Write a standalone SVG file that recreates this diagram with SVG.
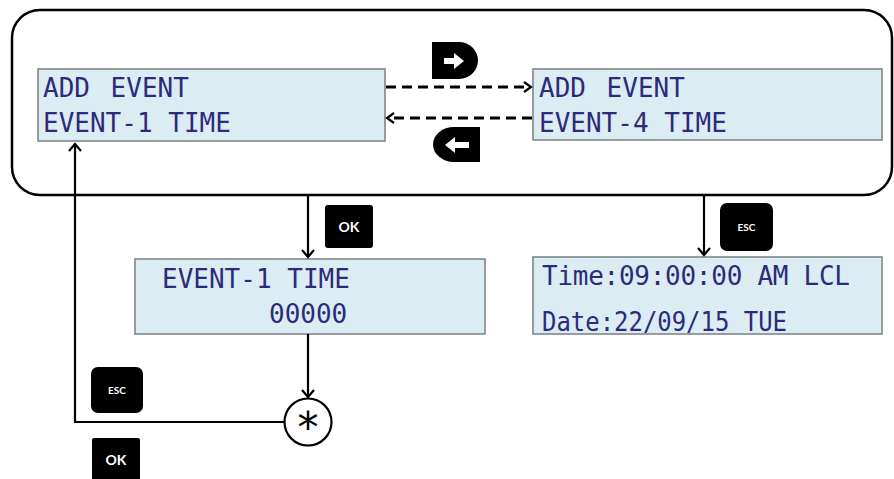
<svg xmlns="http://www.w3.org/2000/svg" width="894" height="479" viewBox="0 0 894 479">
<defs>
<style>
.lcd{fill:#dbedf3;stroke:#7a7f82;stroke-width:1.5}
.lt{font-family:"DejaVu Sans Mono","Liberation Mono",monospace;font-size:26px;fill:#2d2a7c}
.btn{fill:#000}
.bt{font-family:Lato,"Open Sans","Liberation Sans",sans-serif;font-weight:bold;fill:#fff;text-anchor:middle}
.ln{fill:none;stroke:#000;stroke-width:2.2}
.dash{fill:none;stroke:#000;stroke-width:2.8;stroke-dasharray:10 6}
.head{fill:none;stroke:#000;stroke-width:2.2;stroke-linejoin:miter}
</style>
</defs>
<rect x="12" y="10" width="880" height="185" rx="28" ry="28" fill="none" stroke="#000" stroke-width="2.5"/>

<g id="lcd-add-event-1">
<rect class="lcd" x="38" y="69" width="347" height="72"/>
<text class="lt" x="43" y="97" word-spacing="5">ADD EVENT</text>
<text class="lt" x="43" y="132">EVENT-1 TIME</text>
</g>

<g id="lcd-add-event-4">
<rect class="lcd" x="533" y="69" width="349" height="71"/>
<text class="lt" x="539" y="97" word-spacing="5">ADD EVENT</text>
<text class="lt" x="539" y="132">EVENT-4 TIME</text>
</g>

<g id="lcd-event-1-time">
<rect class="lcd" x="135" y="259" width="350" height="75"/>
<text class="lt" x="162" y="288">EVENT-1 TIME</text>
<text class="lt" x="269" y="323">00000</text>
</g>

<g id="lcd-time-date">
<rect class="lcd" x="533" y="257" width="349" height="77"/>
<text class="lt" x="542" y="285" textLength="308" lengthAdjust="spacing">Time:09:00:00 AM LCL</text>
<text class="lt" x="542" y="331" textLength="245" lengthAdjust="spacingAndGlyphs">Date:22/09/15 TUE</text>
</g>

<g id="btn-right">
<path class="btn" d="M432,42 H459 A19,18.5 0 0 1 459,79 H432 Z"/>
<polygon fill="#fff" points="444,58 454,58 454,53 464,61 454,69 454,64 444,64"/>
</g>

<g id="btn-left">
<path class="btn" d="M480,127 V162 H454 A21,17.5 0 0 1 454,127 Z"/>
<polygon fill="#fff" points="445,145 455,137 455,142 469,142 469,148 455,148 455,153"/>
</g>

<g id="btn-ok-mid">
<rect class="btn" x="325" y="205" width="48" height="43" rx="3"/>
<text class="bt" x="349" y="232" font-size="14">OK</text>
</g>

<g id="btn-esc-right">
<rect class="btn" x="720" y="203" width="53" height="48" rx="7"/>
<text class="bt" x="746.5" y="231" font-size="10">ESC</text>
</g>

<g id="btn-esc-left">
<rect class="btn" x="91" y="367" width="52" height="46" rx="7"/>
<text class="bt" x="117" y="394" font-size="10">ESC</text>
</g>

<g id="btn-ok-bottom">
<rect class="btn" x="92" y="438" width="48" height="43" rx="2"/>
<text class="bt" x="116" y="465" font-size="14">OK</text>
</g>

<g id="star-node">
<circle cx="308" cy="422" r="23.5" fill="#fff" stroke="#000" stroke-width="2.2"/>
<text x="308" y="442" font-family="DejaVu Sans,sans-serif" font-size="42" text-anchor="middle" fill="#000">*</text>
</g>

<g id="connectors">
<line class="dash" x1="386" y1="87" x2="530" y2="87"/>
<path class="head" d="M524,82 L531,87 L524,92"/>
<line class="dash" x1="532" y1="118" x2="389" y2="118"/>
<path class="head" d="M394,113 L387,118 L394,123"/>
<line class="ln" x1="308" y1="196" x2="308" y2="257"/>
<path class="head" d="M302,250 L308,257 L314,250"/>
<line class="ln" x1="704" y1="196" x2="704" y2="255"/>
<path class="head" d="M698,248 L704,255 L710,248"/>
<line class="ln" x1="308" y1="334" x2="308" y2="397"/>
<path class="head" d="M302,390 L308,397 L314,390"/>
<polyline class="ln" points="284.5,422 75,422 75,144"/>
<path class="head" d="M69,151 L75,144 L81,151"/>
</g>
</svg>
